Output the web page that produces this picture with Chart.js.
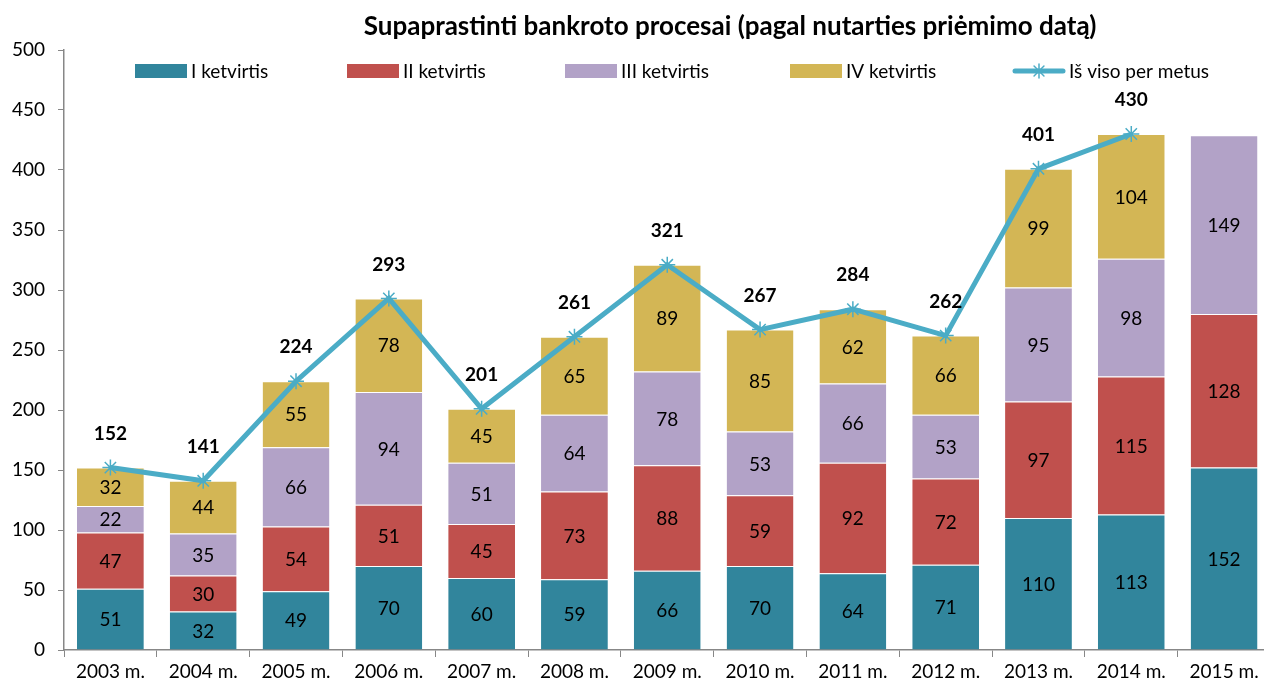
<!DOCTYPE html>
<html>
<head>
<meta charset="utf-8">
<script src="https://cdn.jsdelivr.net/npm/chart.js@4/dist/chart.umd.min.js"></script>
<style>
html,body{margin:0;padding:0;overflow:hidden;background:#fff;}
#wrap{width:1280px;height:684px;position:relative;}
</style>
</head>
<body>
<div id="wrap"><canvas id="c"></canvas></div>
<script>
const categories = ['2003 m.','2004 m.','2005 m.','2006 m.','2007 m.','2008 m.','2009 m.','2010 m.','2011 m.','2012 m.','2013 m.','2014 m.','2015 m.'];
const q1 = [51,32,49,70,60,59,66,70,64,71,110,113,152];
const q2 = [47,30,54,51,45,73,88,59,92,72,97,115,128];
const q3 = [22,35,66,94,51,64,78,53,66,53,95,98,149];
const q4 = [32,44,55,78,45,65,89,85,62,66,99,104,null];
const totals = [152,141,224,293,201,261,321,267,284,262,401,430,null];
const seriesNames = ['I ketvirtis','II ketvirtis','III ketvirtis','IV ketvirtis','Iš viso per metus'];
const yTicks = [0,50,100,150,200,250,300,350,400,450,500];
const titleText = 'Supaprastinti bankroto procesai (pagal nutarties priėmimo datą)';

const colors = ['#31859C','#C0504D','#B2A2C7','#D3B655'];
const lineColor = '#4BACC6';
const FONT = 'Lato';

const labelPlugin = {
  id: 'barLabels',
  afterDatasetsDraw(chart) {
    const ctx = chart.ctx;
    ctx.save();
    ctx.textAlign = 'center';
    ctx.textBaseline = 'middle';
    ctx.fillStyle = '#000';
    ctx.font = '19px ' + FONT;
    for (let i = 0; i < 4; i++) {
      const meta = chart.getDatasetMeta(i);
      const data = chart.data.datasets[i].data;
      meta.data.forEach((el, j) => {
        if (data[j] == null) return;
        const p = el.getProps(['x','y','base'], true);
        ctx.fillText(String(data[j]), p.x, (p.y + p.base) / 2 + 1);
      });
    }
    ctx.font = 'bold 19px ' + FONT;
    const lm = chart.getDatasetMeta(4);
    const ld = chart.data.datasets[4].data;
    lm.data.forEach((el, j) => {
      if (ld[j] == null) return;
      const p = el.getProps(['x','y'], true);
      ctx.fillText(String(ld[j]), p.x, p.y - 34);
    });
    ctx.restore();
  },
  afterDraw(chart) {
    const ctx = chart.ctx;
    ctx.save();
    // title
    ctx.fillStyle = '#000';
    ctx.font = 'bold 26px ' + FONT;
    ctx.textAlign = 'center';
    ctx.textBaseline = 'middle';
    ctx.fillText(titleText, 730, 27);
    // legend
    const xs = [135, 347, 565, 790, 1013];
    const ly = 71;
    ctx.font = '19px ' + FONT;
    ctx.textAlign = 'left';
    for (let i = 0; i < 5; i++) {
      if (i < 4) {
        ctx.fillStyle = colors[i];
        ctx.fillRect(xs[i], ly - 7, 52, 14);
      } else {
        ctx.strokeStyle = lineColor;
        ctx.lineWidth = 5;
        ctx.lineCap = 'round';
        ctx.beginPath(); ctx.moveTo(xs[i] + 2, ly); ctx.lineTo(xs[i] + 50, ly); ctx.stroke();
        ctx.lineWidth = 1.5;
        const cx = xs[i] + 26, r = 7;
        ctx.beginPath();
        ctx.moveTo(cx - r, ly); ctx.lineTo(cx + r, ly);
        ctx.moveTo(cx, ly - r); ctx.lineTo(cx, ly + r);
        const d = r * 0.707;
        ctx.moveTo(cx - d, ly - d); ctx.lineTo(cx + d, ly + d);
        ctx.moveTo(cx - d, ly + d); ctx.lineTo(cx + d, ly - d);
        ctx.stroke();
      }
      ctx.fillStyle = '#000';
      ctx.fillText(seriesNames[i], xs[i] + 56, ly + 1);
    }
    ctx.restore();
  }
};

const barSets = [q1,q2,q3,q4].map((d, i) => ({
  type: 'bar',
  label: seriesNames[i],
  data: d,
  backgroundColor: colors[i],
  borderColor: 'rgba(255,255,255,0.5)',
  borderWidth: {top: 1, bottom: 0, left: 0, right: 0},
  borderSkipped: false,
  stack: 's',
  order: 1,
  barPercentage: 0.72,
  categoryPercentage: 1
}));

new Chart(document.getElementById('c'), {
  data: {
    labels: categories,
    datasets: [...barSets, {
      type: 'line',
      label: seriesNames[4],
      data: totals,
      borderColor: lineColor,
      backgroundColor: lineColor,
      borderWidth: 5,
      pointStyle: 'star',
      pointRadius: 8,
      pointBorderWidth: 1.5,
      pointBorderColor: lineColor,
      tension: 0,
      spanGaps: false,
      order: 0
    }]
  },
  plugins: [labelPlugin],
  options: {
    responsive: true,
    maintainAspectRatio: false,
    animation: false,
    layout: { padding: { top: 50, left: 0, right: 0, bottom: 0 } },
    plugins: { legend: { display: false }, title: { display: false }, tooltip: { enabled: false } },
    scales: {
      x: {
        stacked: true,
        offset: true,
        grid: { display: true, drawOnChartArea: false, drawTicks: true, tickLength: 7, color: '#878787', offset: true },
        border: { display: true, color: '#878787', width: 1.5 },
        ticks: { color: '#000', font: { family: FONT, size: 19 }, padding: 3, maxRotation: 0, autoSkip: false },
        afterFit(s) { s.height = 34; }
      },
      y: {
        stacked: true,
        min: 0, max: 500,
        afterBuildTicks(s) { s.ticks = yTicks.map(v => ({ value: v })); },
        grid: { display: true, drawOnChartArea: false, drawTicks: true, tickLength: 6, color: '#878787' },
        border: { display: true, color: '#878787', width: 1.5 },
        ticks: { color: '#000', font: { family: FONT, size: 19 }, padding: 13 },
        afterFit(s) { s.width = 64; }
      }
    }
  }
});
</script>
</body>
</html>
